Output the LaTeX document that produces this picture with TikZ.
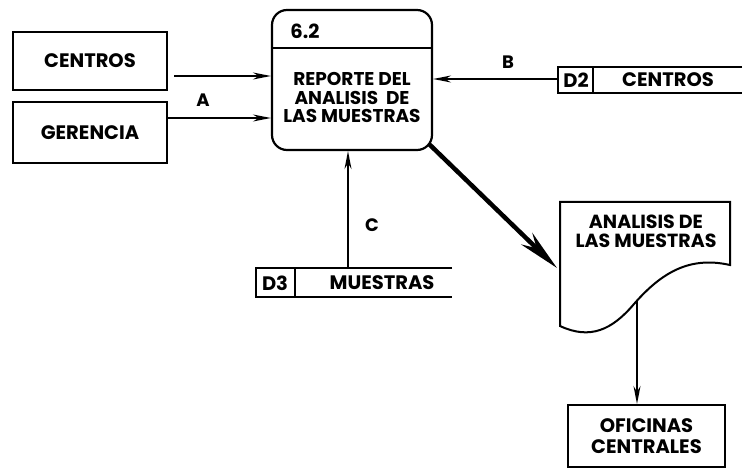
\documentclass[tikz,border=0pt]{standalone}
\usepackage{fontspec}
\setmainfont{Poppins}
\usetikzlibrary{arrows.meta}
\begin{document}
\begin{tikzpicture}[x=1pt,y=-1pt,
  every node/.style={font=\bfseries\fontsize{19.5}{20}\selectfont, inner sep=0pt},
  entity/.style={draw, line width=2pt, minimum width=154pt, minimum height=58pt, align=center},
  flow/.style={line width=1.6pt, -{Stealth[length=18pt,width=7pt]}},
  bigflow/.style={line width=4.5pt, -{Stealth[length=42pt,width=16pt]}},
  storeline/.style={line width=2pt},
  lbl/.style={font=\bfseries\fontsize{18}{18}\selectfont}]
\useasboundingbox (0,0) rectangle (745,468);
% external entities
\node[entity] (centros) at (90,61) {CENTROS};
\node[entity, minimum height=61pt] (gerencia) at (90,132.5) {GERENCIA};
\node[entity, minimum width=157pt, minimum height=62pt, font=\bfseries\fontsize{19.5}{20.5}\selectfont] (oficinas) at (646.5,436) {OFICINAS\\CENTRALES};
% process
\node[draw, line width=2.2pt, rounded corners=15pt, minimum width=160pt, minimum height=140pt] (proc) at (352,80) {};
\draw[line width=1.8pt] (proc.west |- 0,48) -- (proc.east |- 0,48);
\node (pid) at (305,31) {6.2};
\node[align=center, font=\bfseries\fontsize{18.5}{18.5}\selectfont] (ptext) at (352,97.5) {REPORTE DEL\\ANALISIS\ \ DE\\LAS MUESTRAS};
% store D2
\draw[storeline] (742,67) -- (558,67) -- (558,93) -- (742,93);
\draw[storeline] (593,67) -- (593,93);
\node (d2id) at (576,80) {D2};
\node (d2) at (668,80) {CENTROS};
\coordinate (d2w) at (558,79);
% store D3
\draw[storeline] (452,268) -- (256,268) -- (256,297) -- (452,297);
\draw[storeline] (295,268) -- (295,297);
\node (d3id) at (275,283) {D3};
\node (d3) at (382,283) {MUESTRAS};
\coordinate (d3top) at (348,268);
% document
\draw[line width=2pt] (560,326) -- (560,202) -- (730,202) -- (730,265)
  .. controls (690,256) and (662,272) .. (634,304)
  .. controls (612,330) and (590,340) .. (560,326) -- cycle;
\node[align=center, font=\bfseries\fontsize{19}{19}\selectfont] (doc) at (646,231) {ANALISIS DE\\LAS MUESTRAS};
\coordinate (docin) at (557,268);
\coordinate (docout) at (637,300);
% flows
\draw[flow] ([xshift=6pt]centros.east |- 0,76) -- (proc.west |- 0,76);
\draw[flow] (gerencia.east |- 0,118) -- (proc.west |- 0,118);
\node[lbl] (la) at (203,100) {A};
\draw[flow] (d2w) -- (d2w -| proc.east);
\node[lbl] (lb) at (508,62) {B};
\draw[flow] (d3top) -- (d3top |- proc.south);
\node[lbl] (lc) at (372,225) {C};
\draw[bigflow] ([shift={(-4,-7)}]proc.south east) -- (docin);
\draw[flow] (docout) -- (docout |- oficinas.north);
\end{tikzpicture}
\end{document}
